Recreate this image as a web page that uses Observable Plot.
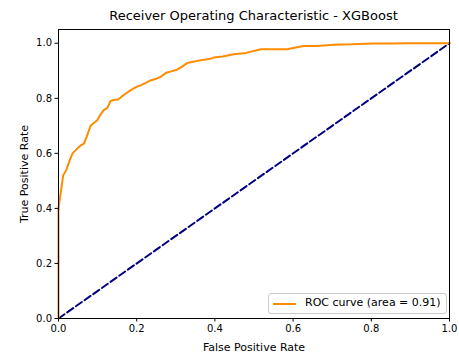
<!DOCTYPE html>
<html>
<head>
<meta charset="utf-8">
<script src="https://cdn.jsdelivr.net/npm/d3@7"></script>
<script src="https://cdn.jsdelivr.net/npm/@observablehq/plot@0.6"></script>
<style>
  html, body { margin: 0; padding: 0; background: #fff; }
  #wrap { position: relative; width: 459px; height: 354px; font-family: "DejaVu Sans", sans-serif; }
  #title { position: absolute; left: 58px; width: 391px; top: 8px; text-align: center; font-size: 13px; color: #000; }
  #legend { position: absolute; left: 268px; top: 293px; width: 177px; height: 19px; border: 1px solid #cccccc; border-radius: 3px; background: rgba(255,255,255,0.8); font-size: 11px; color: #000; }
  #legend .swatch { position: absolute; left: 4px; top: 9px; width: 23px; height: 2px; background: #ff8c00; }
  #legend .lab { position: absolute; left: 36px; top: 2px; white-space: nowrap; }
</style>
</head>
<body>
<div id="wrap"></div>
<script>
const title = "Receiver Operating Characteristic - XGBoost";
const xLabel = "False Positive Rate";
const yLabel = "True Positive Rate";
const legendLabel = "ROC curve (area = 0.91)";
const tickValues = [0, 0.2, 0.4, 0.6, 0.8, 1.0];

const fpr = [0, 0, 0.002, 0.005, 0.008, 0.012, 0.016, 0.02, 0.025, 0.03, 0.036, 0.043, 0.05, 0.058, 0.065, 0.072, 0.077, 0.082, 0.09, 0.099, 0.107, 0.115, 0.125, 0.133, 0.143, 0.153, 0.165, 0.175, 0.184, 0.197, 0.21, 0.222, 0.235, 0.248, 0.261, 0.268, 0.274, 0.288, 0.303, 0.316, 0.329, 0.342, 0.355, 0.372, 0.389, 0.397, 0.42, 0.448, 0.48, 0.517, 0.55, 0.585, 0.6, 0.627, 0.66, 0.704, 0.75, 0.806, 0.85, 0.9, 0.95, 1.0];
const tpr = [0, 0.4, 0.42, 0.45, 0.48, 0.52, 0.53, 0.54, 0.56, 0.58, 0.6, 0.61, 0.62, 0.63, 0.635, 0.66, 0.68, 0.7, 0.71, 0.72, 0.74, 0.756, 0.765, 0.79, 0.795, 0.796, 0.81, 0.82, 0.829, 0.84, 0.847, 0.855, 0.865, 0.87, 0.878, 0.885, 0.892, 0.898, 0.904, 0.915, 0.928, 0.932, 0.936, 0.94, 0.944, 0.948, 0.952, 0.96, 0.965, 0.978, 0.978, 0.978, 0.983, 0.99, 0.99, 0.995, 0.996, 0.999, 0.999, 1.0, 1.0, 1.0];

const chanceX = [0, 1];
const chanceY = [0, 1];

const n = Math.min(fpr.length, tpr.length);
const roc = d3.range(n).map(i => ({x: fpr[i], y: tpr[i]}));
const chance = chanceX.map((x, i) => ({x, y: chanceY[i]}));

const fmt = d3.format(".1f");

const chart = Plot.plot({
  width: 459,
  height: 354,
  marginTop: 29,
  marginBottom: 36,
  marginLeft: 58,
  marginRight: 10,
  style: { fontFamily: "DejaVu Sans, sans-serif", fontSize: "10px", color: "#000", background: "#fff" },
  x: { domain: [0, 1] },
  y: { domain: [0, 1.05] },
  marks: [
    Plot.line(chance, { x: "x", y: "y", stroke: "#000080", strokeWidth: 2, strokeDasharray: "7.4,3.2" }),
    Plot.line(roc, { x: "x", y: "y", stroke: "#ff8c00", strokeWidth: 2, curve: "linear" }),
    Plot.axisX({ ticks: tickValues, tickFormat: fmt, tickSize: 3.5, tickPadding: 3, fontSize: 10, label: null }),
    Plot.axisX({ ticks: [], label: xLabel, labelAnchor: "center", labelArrow: "none", labelOffset: 32, fontSize: 11 }),
    Plot.axisY({ ticks: tickValues, tickFormat: fmt, tickSize: 3.5, tickPadding: 3, fontSize: 10, label: null }),
    Plot.axisY({ ticks: [], label: yLabel, labelAnchor: "center", labelArrow: "none", labelOffset: 38, fontSize: 11 }),
    Plot.frame({ stroke: "#000", strokeWidth: 1 })
  ]
});

const wrap = document.getElementById("wrap");
wrap.appendChild(chart);
const t = document.createElement("div");
t.id = "title";
t.textContent = title;
wrap.appendChild(t);
const lg = document.createElement("div");
lg.id = "legend";
lg.innerHTML = '<div class="swatch"></div><div class="lab"></div>';
lg.querySelector(".lab").textContent = legendLabel;
wrap.appendChild(lg);
</script>
</body>
</html>
